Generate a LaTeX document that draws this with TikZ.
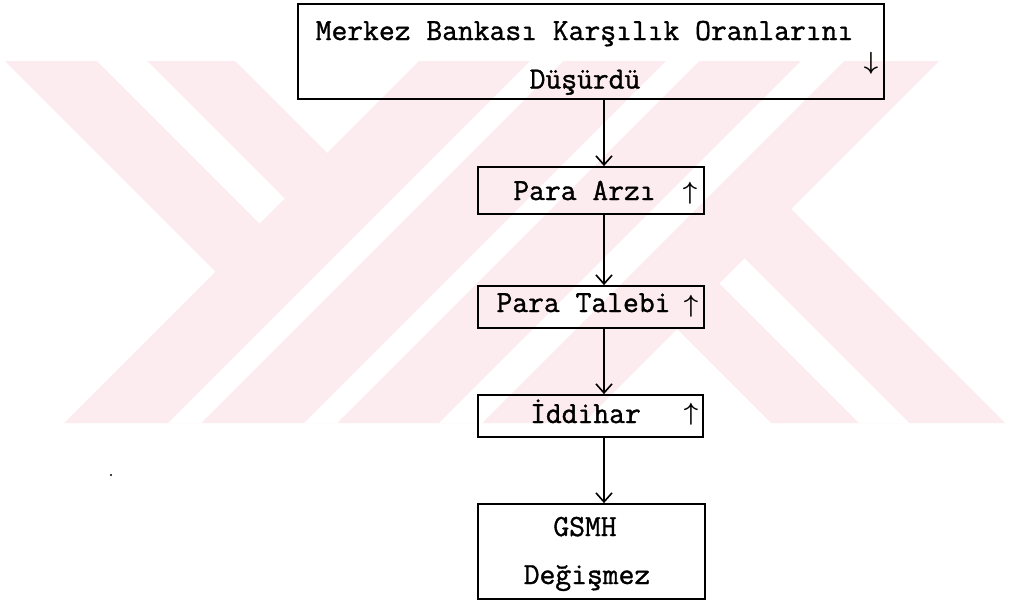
\documentclass[tikz,border=0pt]{standalone}
\usepackage{fontspec}
\newfontfamily\tw{lmmono12-regular.otf}[FakeBold=1.2]
\usetikzlibrary{arrows.meta,calc}
\definecolor{wmpink}{RGB}{252,236,240}
\begin{document}
\begin{tikzpicture}[x=1pt,y=-1pt,
  box/.style={draw=black, line width=1.8pt, rectangle, inner sep=0pt},
  lbl/.style={font=\fontsize{30.7}{36}\selectfont\tw, anchor=base, inner sep=0pt},
  arr/.style={line width=1.6pt, -{Straight Barb[length=9pt,width=16pt,line width=1.6pt]}},
  mk/.style={inner sep=0pt, font=\fontsize{25}{28}\selectfont\boldmath},
  mkbig/.style={inner sep=0pt, font=\fontsize{30}{34}\selectfont\boldmath}]
\fill[white] (0,0) rectangle (1010,605);
\useasboundingbox (0,0) rectangle (1010,605);
% watermark
\fill[wmpink] (5,61) -- (235,61) -- (327,153) -- (419,61) -- (939,61) -- (791,209)
  -- (1005,423) -- (771,423) -- (677,329) -- (583,423) -- (64,423) -- (215.5,271.5) -- cycle;
\fill[white] (530,61) -- (563,61) -- (201,423) -- (168,423) -- cycle;
\fill[white] (666,61) -- (699,61) -- (337,423) -- (304,423) -- cycle;
\fill[white] (801,61) -- (844,61) -- (482,423) -- (439,423) -- cycle;
\fill[white] (97,61) -- (147,61) -- (284.5,198.5) -- (259.5,223.5) -- cycle;
\fill[white] (744.5,258.5) -- (909,423) -- (859,423) -- (719.5,283.5) -- cycle;
\fill[black] (111,475) circle (1.1);
% boxes
\node[box, minimum width=586pt, minimum height=95pt] (top) at (591,51.5) {};
\node[box, minimum width=226pt, minimum height=47pt] (arz) at (591,190.5) {};
\node[box, minimum width=226pt, minimum height=42pt] (talep) at (591,307) {};
\node[box, minimum width=225pt, minimum height=42pt] (iddi) at (590.5,416) {};
\node[box, minimum width=227pt, minimum height=95pt] (gsmh) at (591.5,551.5) {};
% texts
\node[lbl] (t1) at (584.5,40) {Merkez Bankası Karşılık Oranlarını};
\node[lbl] (t2) at (585,88.5) {Düşürdü};
\node[lbl] (t3) at (584.5,200) {Para Arzı};
\node[lbl] (t4) at (583.5,312) {Para Talebi};
\node[lbl] (t5) at (585.5,423) {İddihar};
\node[lbl] (t6) at (585,536) {GSMH};
\node[lbl] (t7) at (587,584) {Değişmez};
% small arrows
\node[mkbig] (m1) at (871,63) {$\downarrow$};
\node[mk] (m2) at (690,193) {$\uparrow$};
\node[mk] (m3) at (691,306) {$\uparrow$};
\node[mkbig] (m4) at (691,414) {$\uparrow$};
% connectors
\draw[arr] ($(top.south)+(13,0)$) -- ($(arz.north)+(13,0)$);
\draw[arr] ($(arz.south)+(13,0)$) -- ($(talep.north)+(13,0)$);
\draw[arr] ($(talep.south)+(13,0)$) -- ($(iddi.north)+(13.5,0)$);
\draw[arr] ($(iddi.south)+(13.5,0)$) -- ($(gsmh.north)+(12.5,0)$);
\end{tikzpicture}
\end{document}
